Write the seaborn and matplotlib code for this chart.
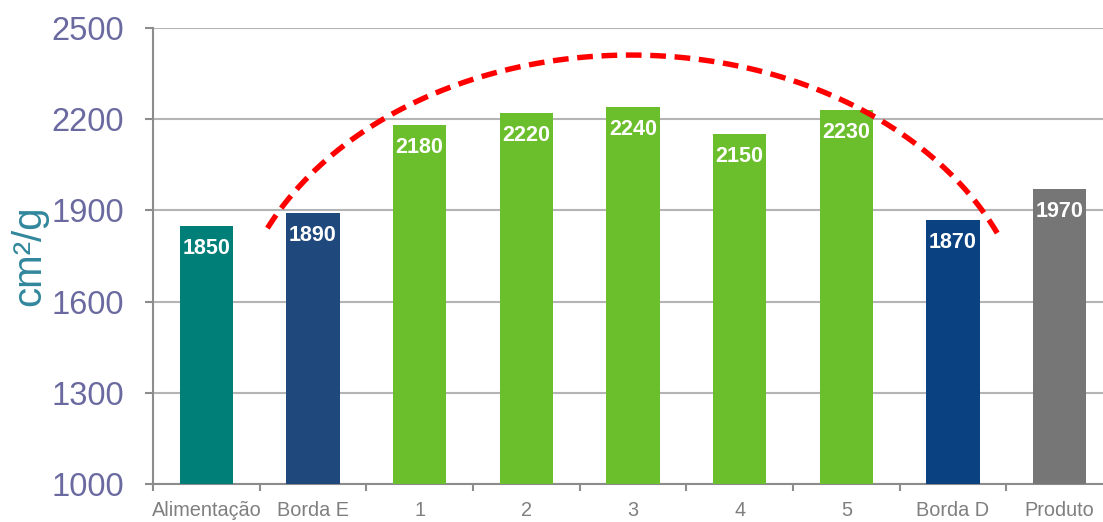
import numpy as np
import pandas as pd
import matplotlib
matplotlib.use("Agg")
import matplotlib.pyplot as plt
import seaborn as sns

# Specific surface area along the separator
categories = ["Alimentação", "Borda E", "1", "2", "3", "4", "5", "Borda D", "Produto"]
values = [1850, 1890, 2180, 2220, 2240, 2150, 2230, 1870, 1970]
bar_colors = ["#007E78", "#1F487C", "#6CBF2C", "#6CBF2C", "#6CBF2C",
              "#6CBF2C", "#6CBF2C", "#0A4180", "#767676"]
y_ticks = [1000, 1300, 1600, 1900, 2200, 2500]

# Trend arc (ellipse centre, semi-axes, angular span in degrees)
arc_center = (3.98, 1424)
arc_semi_axes = (3.76, 987)
arc_span = (24, 156)

sns.set_theme(style="white")
plt.rcParams["font.family"] = ["Liberation Sans", "DejaVu Sans"]

df = pd.DataFrame({"categoria": categories, "valor": values})

fig = plt.figure(figsize=(11.03, 5.22), dpi=100)
ax = fig.add_axes([153 / 1103, 1 - 484 / 522, 960 / 1103, 456 / 522])

sns.barplot(data=df, x="categoria", y="valor", hue="categoria",
            palette=bar_colors, legend=False, width=0.5, ax=ax,
            saturation=1, linewidth=0, zorder=3)

ax.set_ylim(1000, 2500)
ax.set_xlim(-0.5, len(categories) - 0.5)
ax.set_yticks(y_ticks)
ax.yaxis.grid(True, color="#B4B4B4", linewidth=1.5, zorder=0)
ax.set_axisbelow(True)

for s in ["top", "right"]:
    ax.spines[s].set_visible(False)
for s in ["left", "bottom"]:
    ax.spines[s].set_color("#8C8C8C")
    ax.spines[s].set_linewidth(1.5)

ax.tick_params(axis="y", which="major", left=True, length=6, width=1.5,
               color="#8C8C8C", pad=15, labelsize=23.5, labelcolor="#6A6AA0")
ax.tick_params(axis="x", which="major", bottom=False, pad=6,
               labelsize=14.3, labelcolor="#7F7F7F")
ax.set_xticks(np.arange(len(categories) + 1) - 0.5, minor=True)
ax.tick_params(axis="x", which="minor", bottom=True, length=5, width=1.5,
               color="#8C8C8C")

ax.set_xlabel("")
ax.set_ylabel("")
fig.text(29 / 1103, 1 - 256 / 522, "cm²/g", rotation=90, ha="center",
         va="center", fontsize=29, color="#31879C")

# Value labels inside the top of each bar
for i, v in enumerate(values):
    ax.text(i, v - 74, f"{v}", ha="center", va="center", color="white",
            fontsize=15.5, fontweight="bold", zorder=5)

# Dashed trend arc over the bars
t = np.radians(np.linspace(arc_span[0], arc_span[1], 200))
arc_x = arc_center[0] + arc_semi_axes[0] * np.cos(t)
arc_y = arc_center[1] + arc_semi_axes[1] * np.sin(t)
ax.plot(arc_x, arc_y, color="#FF0000", linewidth=3.9, linestyle=(0, (2.9, 1.6)),
        solid_capstyle="butt", dash_capstyle="butt", zorder=6, clip_on=False)

fig.savefig("out.png", dpi=100)
